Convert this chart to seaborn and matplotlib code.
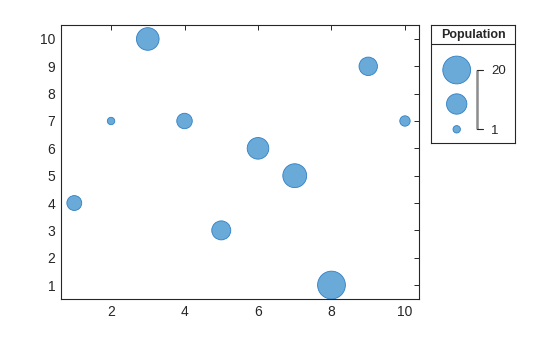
import matplotlib
matplotlib.use("Agg")
import matplotlib.pyplot as plt
import seaborn as sns
import pandas as pd

x_vals = [1, 2, 3, 4, 5, 6, 7, 8, 9, 10]
y_vals = [4, 7, 10, 7, 3, 6, 5, 1, 9, 7]
population = [5.4, 1, 13.1, 5.9, 9.1, 11.9, 14.6, 20, 8.5, 2.4]
legend_values = [20, 10.5, 1]
legend_labels = ["20", "1"]
xticks = [2, 4, 6, 8, 10]
yticks = [1, 2, 3, 4, 5, 6, 7, 8, 9, 10]

sns.set_style("white")
plt.rcParams['font.family'] = ['Liberation Sans', 'DejaVu Sans']

W, H = 560, 337
fig = plt.figure(figsize=(W / 100, H / 100), dpi=100)

face = "#6aaad9"
edge = "#2f7fc4"
px = 0.72  # points per pixel
size_range = ((7.4 * px) ** 2, (27.8 * px) ** 2)

df = pd.DataFrame({"x": x_vals, "y": y_vals, "Population": population})

ax = fig.add_axes([60.7 / W, (H - 299) / H, (419.3 - 60.7) / W, (299 - 25.3) / H])
sns.scatterplot(data=df, x="x", y="y", size="Population", sizes=size_range,
                size_norm=(1, 20), color=face, edgecolor=edge, linewidth=0.6,
                alpha=1, legend=False, ax=ax, zorder=3)
ax.set_xlim(0.63, 10.39)
ax.set_ylim(0.49, 10.50)
ax.set_xticks(xticks)
ax.set_yticks(yticks)
ax.set_xlabel("")
ax.set_ylabel("")
ax.tick_params(direction="in", top=True, right=True, length=3.5, width=0.7,
               labelsize=10, colors="#262626", pad=4)
for s in ax.spines.values():
    s.set_visible(True)
    s.set_color("#262626")
    s.set_linewidth(0.8)

# legend box
lx0, lx1, ly0, ly1 = 431.3, 515.3, 25.3, 143.3
lax = fig.add_axes([lx0 / W, (H - ly1) / H, (lx1 - lx0) / W, (ly1 - ly0) / H])
lax.set_xlim(0, lx1 - lx0)
lax.set_ylim(ly1 - ly0, 0)
lax.set_xticks([])
lax.set_yticks([])
for s in lax.spines.values():
    s.set_visible(True)
    s.set_color("#262626")
    s.set_linewidth(0.8)
lax.text((lx1 - lx0) / 2 + 0.5, 9.5, "Population", ha="center", va="center",
         fontsize=9, fontweight="bold", color="#262626")
lax.axhline(44.3 - ly0, color="#262626", linewidth=0.8)

ldf = pd.DataFrame({"x": [456.7 - lx0] * 3,
                    "y": [70 - ly0, 104 - ly0, 129.3 - ly0],
                    "Population": legend_values})
sns.scatterplot(data=ldf, x="x", y="y", size="Population", sizes=size_range,
                size_norm=(1, 20), color=face, edgecolor=edge, linewidth=0.6,
                alpha=1, legend=False, ax=lax, zorder=3)
lax.set_xlabel("")
lax.set_ylabel("")
bx = 477.3 - lx0
ytop, ybot = 69.5 - ly0, 129 - ly0
lax.plot([bx, bx], [ytop, ybot], color="#8c8c8c", linewidth=1.8, solid_capstyle="butt")
lax.plot([bx, bx + 5.5], [ytop, ytop], color="#262626", linewidth=0.8)
lax.plot([bx, bx + 5.5], [ybot, ybot], color="#262626", linewidth=0.8)
lax.text(491 - lx0, ytop, legend_labels[0], ha="left", va="center_baseline", fontsize=9.5, color="#262626")
lax.text(490.5 - lx0, ybot, legend_labels[1], ha="left", va="center_baseline", fontsize=9.5, color="#262626")

fig.savefig("out.png", dpi=100)
